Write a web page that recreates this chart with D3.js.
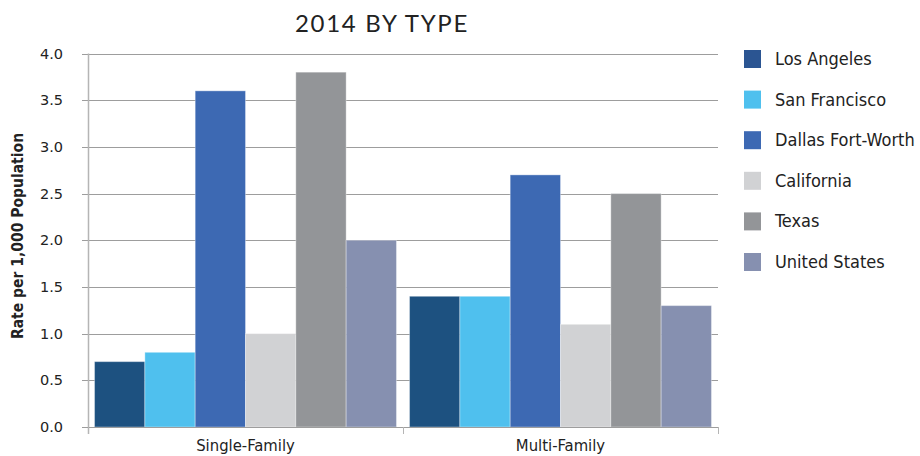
<!DOCTYPE html>
<html>
<head>
<meta charset="utf-8">
<script src="https://cdn.jsdelivr.net/npm/d3@7"></script>
<style>
  html, body { margin: 0; padding: 0; background: #fff; }
  svg { display: block; }
</style>
</head>
<body>
<svg id="chart" width="920" height="456"></svg>
<script>
// Housing permit rates per 1,000 population, 2014, by building type
const categories = ["Single-Family", "Multi-Family"];
const seriesNames = ["Los Angeles", "San Francisco", "Dallas Fort-Worth", "California", "Texas", "United States"];
const losAngeles = [0.7, 1.4];
const sanFrancisco = [0.8, 1.4];
const dallasFortWorth = [3.6, 2.7];
const california = [1.0, 1.1];
const texas = [3.8, 2.5];
const unitedStates = [2.0, 1.3];
const yTicks = [0, 0.5, 1.0, 1.5, 2.0, 2.5, 3.0, 3.5, 4.0];
const seriesColors = ["#1d5180", "#4fc0ee", "#3d69b3", "#d1d2d4", "#939598", "#8690b0"];
const legendColors = ["#2b5592", "#4fc0ee", "#3d69b3", "#d1d2d4", "#939598", "#8690b0"];

const seriesValues = [losAngeles, sanFrancisco, dallasFortWorth, california, texas, unitedStates];

const svg = d3.select("#chart");
const margin = { left: 88, right: 202, top: 53.5, bottom: 29 };
const W = 920, H = 456;
const plotL = margin.left, plotR = W - margin.right, plotT = margin.top, plotB = H - margin.bottom;

const x0 = d3.scaleBand().domain(categories).range([plotL, plotR]).paddingInner(0).paddingOuter(0);
const x1 = d3.scaleBand().domain(seriesNames).range([0, x0.bandwidth()]).paddingInner(0).paddingOuter(0.13);
const y = d3.scaleLinear().domain([0, 4]).range([plotB, plotT]);

// Gridlines
svg.append("g")
  .selectAll("line")
  .data(yTicks)
  .join("line")
  .attr("x1", plotL - 6)
  .attr("x2", plotR)
  .attr("y1", d => Math.round(y(d)) + 0.5)
  .attr("y2", d => Math.round(y(d)) + 0.5)
  .attr("stroke", "#9d9d9d")
  .attr("stroke-width", 1);

// Y tick labels
svg.append("g")
  .selectAll("text")
  .data(yTicks)
  .join("text")
  .attr("x", 63)
  .attr("y", d => y(d) + 5)
  .attr("text-anchor", "end")
  .attr("font-family", "DejaVu Sans, sans-serif")
  .attr("font-size", 14.5)
  .attr("fill", "#222")
  .text(d => d3.format(".1f")(d));

// Bars
const groups = svg.append("g")
  .selectAll("g")
  .data(categories)
  .join("g")
  .attr("transform", d => `translate(${x0(d)},0)`);

groups.selectAll("rect")
  .data((c, i) => seriesNames.map((s, j) => ({ s, j, v: seriesValues[j][i] })))
  .join("rect")
  .attr("x", d => x1(d.s))
  .attr("width", x1.bandwidth())
  .attr("y", d => y(d.v))
  .attr("height", d => y(0) - y(d.v))
  .attr("fill", d => seriesColors[d.j])
  .attr("stroke", "rgba(255,255,255,0.35)")
  .attr("stroke-width", 1);

// Axis lines
svg.append("line")
  .attr("x1", plotL + 0.5).attr("x2", plotL + 0.5)
  .attr("y1", plotT).attr("y2", plotB + 7)
  .attr("stroke", "#b5b5b5").attr("stroke-width", 1.5);

svg.append("line")
  .attr("x1", plotL - 6).attr("x2", plotR)
  .attr("y1", Math.round(y(0)) + 0.5).attr("y2", Math.round(y(0)) + 0.5)
  .attr("stroke", "#9d9d9d").attr("stroke-width", 1);

// Category boundary ticks
const xTickPos = [plotL, ...categories.map(c => x0(c) + x0.bandwidth())];
svg.append("g")
  .selectAll("line")
  .data(xTickPos)
  .join("line")
  .attr("x1", d => d + 0.5).attr("x2", d => d + 0.5)
  .attr("y1", plotB).attr("y2", plotB + 7)
  .attr("stroke", "#b5b5b5").attr("stroke-width", 1);

// Category labels
svg.append("g")
  .selectAll("text")
  .data(categories)
  .join("text")
  .attr("x", d => x0(d) + x0.bandwidth() / 2)
  .attr("y", 451)
  .attr("text-anchor", "middle")
  .attr("font-family", "DejaVu Sans Condensed, DejaVu Sans, sans-serif")
  .attr("font-size", 16.5)
  .attr("fill", "#222")
  .text(d => d);

// Y axis title
svg.append("text")
  .attr("transform", `translate(23,236) rotate(-90)`)
  .attr("text-anchor", "middle")
  .attr("font-family", "DejaVu Sans Condensed, DejaVu Sans, sans-serif")
  .attr("font-weight", "bold")
  .attr("font-size", 15.5)
  .attr("fill", "#222")
  .text("Rate per 1,000 Population");

// Title
svg.append("text")
  .attr("x", 382)
  .attr("y", 32)
  .attr("text-anchor", "middle")
  .attr("font-family", "Lato, sans-serif")
  .attr("font-size", 24)
  .attr("letter-spacing", 1.7)
  .attr("fill", "#222")
  .text("2014 BY TYPE");

// Legend
const legend = svg.append("g")
  .selectAll("g")
  .data(seriesNames)
  .join("g")
  .attr("transform", (d, i) => `translate(744,${50 + i * 40.6})`);

legend.append("rect")
  .attr("width", 17).attr("height", 18)
  .attr("fill", (d, i) => legendColors[i]);

legend.append("text")
  .attr("x", 31)
  .attr("y", 15)
  .attr("font-family", "DejaVu Sans Condensed, DejaVu Sans, sans-serif")
  .attr("font-size", 18)
  .attr("fill", "#222")
  .text(d => d);
</script>
</body>
</html>
